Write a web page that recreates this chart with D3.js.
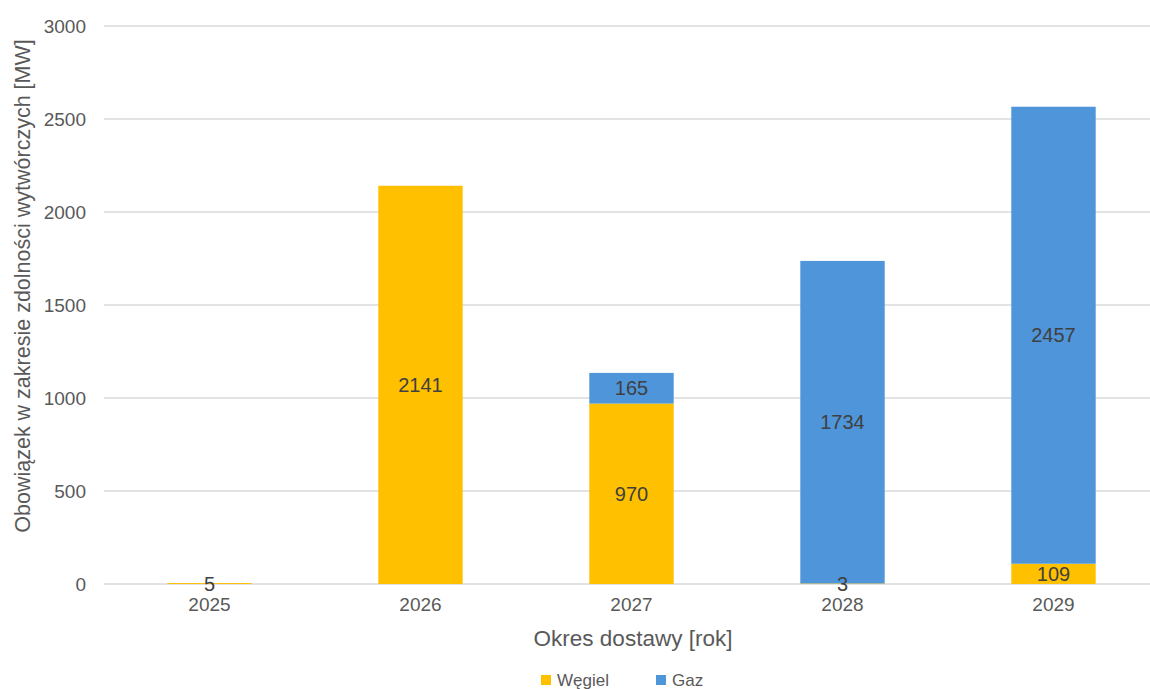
<!DOCTYPE html>
<html><head><meta charset="utf-8">
<script src="https://cdn.jsdelivr.net/npm/d3@7"></script>
<style>body{margin:0;background:#fff}text{font-family:"Liberation Sans",Arial,sans-serif}</style>
</head><body><svg id="c" width="1150" height="689"></svg>
<script>
const years = ["2025","2026","2027","2028","2029"];
const wegiel = [5, 2141, 970, 3, 109];
const gaz = [0, 0, 165, 1734, 2457];
const yTicks = [0, 500, 1000, 1500, 2000, 2500, 3000];
const seriesNames = ["Węgiel", "Gaz"];
const colors = ["#FFC000", "#4E95D9"];

const svg = d3.select("#c");
const x = d3.scaleBand().domain(years).range([104, 1159]).paddingInner(0.6).paddingOuter(0.3);
const y = d3.scaleLinear().domain([0, 3000]).range([584, 26]);

svg.append("g").selectAll("line").data(yTicks).join("line")
  .attr("x1", 104).attr("x2", 1150).attr("y1", d => y(d)).attr("y2", d => y(d))
  .attr("stroke", "#d9d9d9").attr("stroke-width", 1.3);

const yAxis = d3.axisLeft(y).tickValues(yTicks).tickFormat(d3.format("d")).tickSize(0).tickPadding(0);
const ya = svg.append("g").attr("transform", "translate(86,0)").call(yAxis);
ya.select(".domain").remove();
ya.selectAll("text").attr("font-size", 19).attr("fill", "#595959").attr("font-family", "Liberation Sans, Arial, sans-serif");

const xAxis = d3.axisBottom(x).tickSize(0).tickPadding(0);
const xa = svg.append("g").attr("transform", "translate(0,597)").call(xAxis);
xa.select(".domain").remove();
xa.selectAll("text").attr("font-size", 19).attr("fill", "#595959").attr("font-family", "Liberation Sans, Arial, sans-serif");

const data = years.map((yr, i) => ({year: yr, "Węgiel": wegiel[i], "Gaz": gaz[i]}));
const stack = d3.stack().keys(seriesNames)(data);

stack.forEach((s, si) => {
  svg.append("g").selectAll("rect").data(s).join("rect")
    .attr("x", d => x(d.data.year)).attr("width", x.bandwidth())
    .attr("y", d => y(d[1])).attr("height", d => Math.max(0, y(d[0]) - y(d[1])))
    .attr("fill", colors[si]);
});

stack.forEach((s, si) => {
  svg.append("g").selectAll("text").data(s.filter(d => d[1] - d[0] > 0)).join("text")
    .attr("x", d => x(d.data.year) + x.bandwidth() / 2)
    .attr("y", d => y((d[0] + d[1]) / 2))
    .attr("dy", "0.36em").attr("text-anchor", "middle")
    .attr("font-size", 20).attr("fill", "#404040")
    .text(d => d[1] - d[0]);
});

svg.append("text").attr("x", 633).attr("y", 646).attr("text-anchor", "middle")
  .attr("font-size", 22.5).attr("fill", "#595959").text("Okres dostawy [rok]");
svg.append("text").attr("transform", "translate(30,286) rotate(-90)").attr("text-anchor", "middle")
  .attr("font-size", 21.5).attr("fill", "#595959").text("Obowiązek w zakresie zdolności wytwórczych [MW]");

const legX = [541, 656];
seriesNames.forEach((n, i) => {
  svg.append("rect").attr("x", legX[i]).attr("y", 675).attr("width", 10).attr("height", 10).attr("fill", colors[i]);
  svg.append("text").attr("x", legX[i] + 16).attr("y", 686).attr("font-size", 17).attr("fill", "#595959").text(n);
});
</script></body></html>
